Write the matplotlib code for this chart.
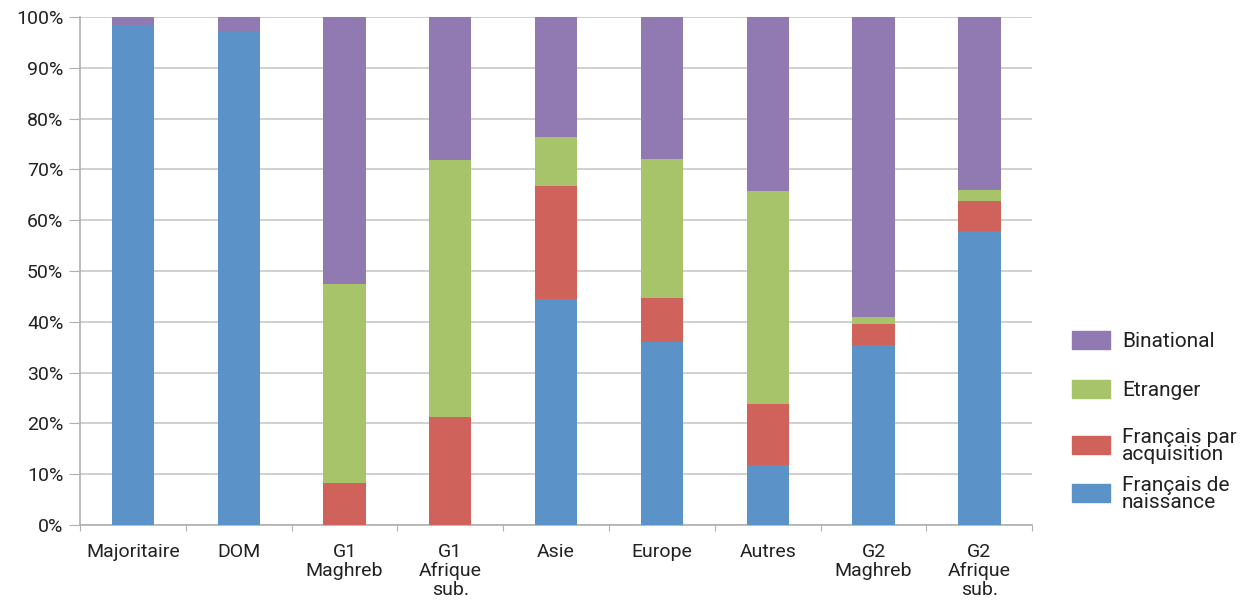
import matplotlib.pyplot as plt
import numpy as np
from matplotlib.patches import Rectangle

plt.rcParams['font.family'] = ['Roboto', 'DejaVu Sans']

# Data (% of each group)
groupes = ['Majoritaire', 'DOM', 'G1\nMaghreb', 'G1\nAfrique\nsub.', 'Asie',
           'Europe', 'Autres', 'G2\nMaghreb', 'G2\nAfrique\nsub.']
naissance = [98.2, 97.2, 0.0, 0.0, 44.4, 36.0, 11.8, 35.4, 57.8]
acquisition = [0.0, 0.0, 8.2, 21.3, 22.4, 8.6, 12.0, 4.2, 6.0]
etranger = [0.0, 0.0, 39.2, 50.6, 9.6, 27.4, 42.0, 1.4, 2.1]
binational = [1.8, 2.8, 52.6, 28.1, 23.6, 28.0, 34.2, 59.0, 34.1]

c_blue = '#5b93c8'
c_red = '#cf625a'
c_green = '#a8c46a'
c_purple = '#9179b2'
txt = '#222222'

fig = plt.figure(figsize=(12.4, 6.01), dpi=100)
ax = fig.add_axes([0.0645, 0.1265, 0.768, 0.845])

x = np.arange(len(groupes))
w = 0.4
b1 = np.array(naissance)
b2 = b1 + np.array(acquisition)
b3 = b2 + np.array(etranger)
ax.bar(x, naissance, w, color=c_blue, zorder=3)
ax.bar(x, acquisition, w, bottom=b1, color=c_red, zorder=3)
ax.bar(x, etranger, w, bottom=b2, color=c_green, zorder=3)
ax.bar(x, binational, w, bottom=b3, color=c_purple, zorder=3)

ax.set_xlim(-0.5, len(groupes) - 0.5)
ax.set_ylim(0, 100)
ax.set_yticks(range(0, 101, 10))
ax.set_yticklabels([f'{v}%' for v in range(0, 101, 10)], fontsize=14, color=txt)
ax.yaxis.grid(True, color='#c8c8c8', linewidth=1.2, zorder=0)

# category labels between boundary ticks
ax.set_xticks(np.arange(-0.5, len(groupes)), minor=False)
ax.set_xticklabels([])
ax.set_xticks(x, minor=True)
ax.set_xticklabels(groupes, minor=True, fontsize=14, color=txt, linespacing=1.05)
ax.tick_params(axis='x', which='minor', length=0, pad=13)
ax.tick_params(axis='x', which='major', length=4, color='#b0b0b0', direction='out')
ax.tick_params(axis='y', length=8, color='#b0b0b0', pad=4)

for s in ['top', 'right']:
    ax.spines[s].set_visible(False)
for s in ['left', 'bottom']:
    ax.spines[s].set_color('#b0b0b0')
    ax.spines[s].set_linewidth(1.2)

# legend drawn as swatches + labels on the right
leg_colors = [c_purple, c_green, c_red, c_blue]
leg_labels = ['Binational', 'Etranger', 'Français par\nacquisition', 'Français de\nnaissance']
leg_y = [0.4343, 0.3528, 0.2596, 0.1797]
for col, lab, yc in zip(leg_colors, leg_labels, leg_y):
    fig.add_artist(Rectangle((0.8645, yc - 0.0155), 0.031, 0.031,
                             transform=fig.transFigure, color=col))
    fig.text(0.9048, yc - 0.002, lab, fontsize=15, color=txt, va='center',
             ha='left', linespacing=0.85)

fig.savefig('out.png', dpi=100)
